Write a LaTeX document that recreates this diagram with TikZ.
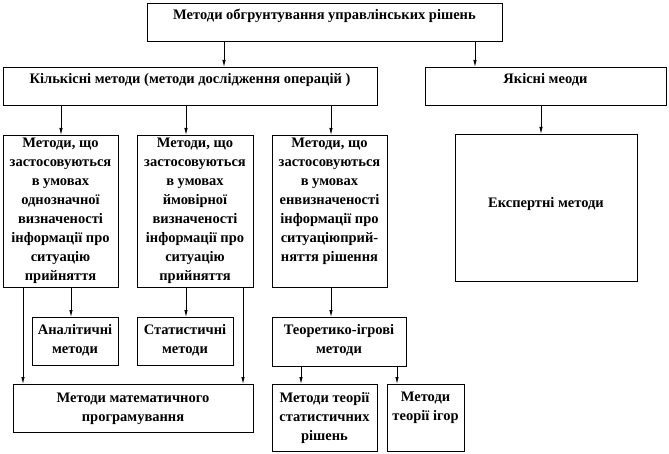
\documentclass[tikz,border=0pt]{standalone}
\usepackage{fontspec}
\setmainfont{Liberation Serif}[BoldFont={Liberation Serif Bold}]
\usetikzlibrary{arrows.meta}
\begin{document}
\begin{tikzpicture}[x=1pt,y=-1pt,
  box/.style={draw, line width=0.9pt, inner sep=0pt, outer sep=0pt, anchor=north west},
  txt/.style={inner sep=0pt, align=center, font=\fontsize{14.5}{19}\selectfont\bfseries, anchor=north},
  arr/.style={line width=0.8pt, -{Latex[length=7pt,width=3.5pt]}},
  ln/.style={line width=0.8pt}]
\useasboundingbox (0,0) rectangle (669,454);
\node[box, minimum width=355pt, minimum height=38pt] (top) at (147,3) {};
\node[box, minimum width=374pt, minimum height=38pt] (kil) at (3,67) {};
\node[box, minimum width=241pt, minimum height=38pt] (yak) at (425,67) {};
\node[box, minimum width=115pt, minimum height=152pt] (b1) at (3,135) {};
\node[box, minimum width=116pt, minimum height=152pt] (b2) at (137,135) {};
\node[box, minimum width=115pt, minimum height=152pt] (b3) at (272,135) {};
\node[box, minimum width=182pt, minimum height=147pt] (eksp) at (455,134) {};
\node[box, minimum width=86pt, minimum height=48pt] (anal) at (32,317) {};
\node[box, minimum width=96pt, minimum height=48pt] (stat) at (137,317) {};
\node[box, minimum width=134pt, minimum height=49pt] (teor) at (272,317) {};
\node[box, minimum width=240pt, minimum height=48pt] (mat) at (13,384) {};
\node[box, minimum width=105pt, minimum height=67pt] (statr) at (272,384) {};
\node[box, minimum width=77pt, minimum height=67pt] (igor) at (387,384) {};
% texts
\node[txt] (ttop) at ([yshift=-6pt]top.north) {Методи обгрунтування управлінських рішень};
\node[txt] (tkil) at ([yshift=-6pt]kil.north) {Кількісні методи (методи дослідження операцій )};
\node[txt] (tyak) at ([yshift=-6pt]yak.north) {Якісні меоди};
\node[txt] (tb1) at ([yshift=-3pt]b1.north) {Методи, що\\застосовуються\\в умовах\\однозначної\\визначеності\\інформації про\\ситуацію\\прийняття};
\node[txt] (tb2) at ([yshift=-3pt]b2.north) {Методи, що\\застосовуються\\в умовах\\ймовірної\\визначеності\\інформації про\\ситуацію\\прийняття};
\node[txt] (tb3) at ([yshift=-3pt]b3.north) {Методи, що\\застосовуються\\в умовах\\енвизначеності\\інформації про\\ситуаціюприй-\\няття рішення};
\node[txt, anchor=center] (teksp) at ([yshift=3pt]eksp.center) {Експертні методи};
\node[txt] (tanal) at ([yshift=-7pt]anal.north) {Аналітичні\\методи};
\node[txt] (tstat) at ([yshift=-7pt]stat.north) {Статистичні\\методи};
\node[txt] (tteor) at ([yshift=-7pt]teor.north) {Теоретико-ігрові\\методи};
\node[txt] (tmat) at ([yshift=-9pt]mat.north) {Методи математичного\\програмування};
\node[txt] (tstatr) at ([yshift=-8pt]statr.north) {Методи теорії\\статистичних\\рішень};
\node[txt] (tigor) at ([yshift=-8pt]igor.north) {Методи\\теорії ігор};
% connector x positions
\coordinate (x224) at (224,0);
\coordinate (x475) at (475,0);
\coordinate (x61) at (61,0);
\coordinate (x186) at (186,0);
\coordinate (x331) at (331,0);
\coordinate (x541) at (541,0);
\coordinate (x23) at (23,0);
\coordinate (x71) at (71,0);
\coordinate (x243) at (243,0);
\coordinate (x301) at (301,0);
\coordinate (x397) at (397,0);
% connectors
\draw[arr] (top.south -| x224) -- (kil.north -| x224);
\draw[arr] (top.south -| x475) -- (yak.north -| x475);
\draw[arr] (kil.south -| x61) -- (b1.north -| x61);
\draw[arr] (kil.south -| x186) -- (b2.north -| x186);
\draw[arr] (kil.south -| x331) -- (b3.north -| x331);
\draw[arr] (yak.south -| x541) -- (eksp.north -| x541);
\draw[arr] (b1.south -| x23) -- (mat.north -| x23);
\draw[arr] (b1.south -| x71) -- (anal.north -| x71);
\draw[arr] (b2.south -| x186) -- (stat.north -| x186);
\draw[arr] (b2.south -| x243) -- (mat.north -| x243);
\draw[arr] (b3.south -| x331) -- (teor.north -| x331);
\draw[arr] (teor.south -| x301) -- (statr.north -| x301);
\draw[arr] (teor.south -| x397) -- (igor.north -| x397);
\end{tikzpicture}
\end{document}
